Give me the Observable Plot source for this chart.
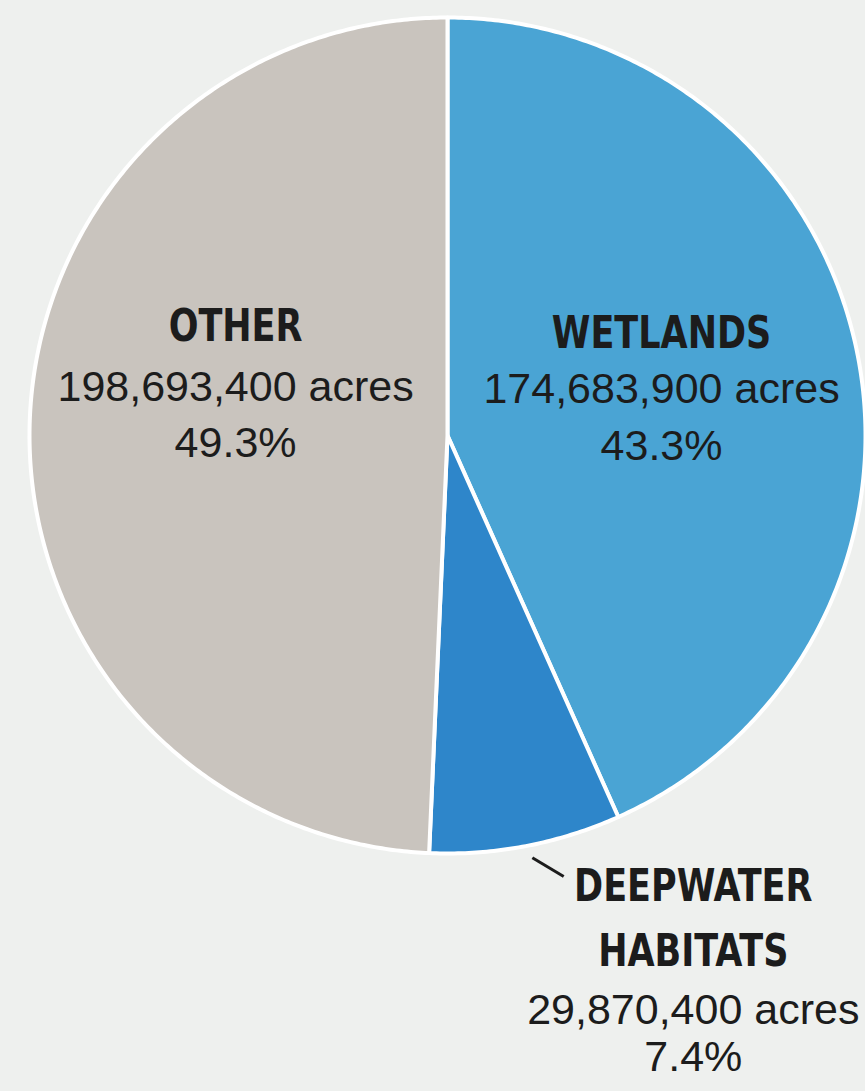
<!DOCTYPE html>
<html><head><meta charset="utf-8">
<script src="https://cdn.jsdelivr.net/npm/d3@7"></script>
<script src="https://cdn.jsdelivr.net/npm/@observablehq/plot@0.6"></script>
<style>
html,body{margin:0;padding:0;background:#eef0ee;}
#chart svg{display:block;}
</style>
</head><body><div id="chart"></div>
<script>
// ---- data ----
const categories = ["WETLANDS", "DEEPWATER\nHABITATS", "OTHER"];
const acres = [174683900, 29870400, 198693400];
const percents = [43.3, 7.4, 49.3];
const colors = ["#4aa4d4", "#2e86ca", "#c9c4be"];

// ---- layout (data units of the pie, radius = 1) ----
const labelX = [0.512, 0.588, -0.507];
const titleY = [0.2105, -1.268, 0.227];
const acresY = [0.0766, -1.407, 0.0837];
const pctY = [-0.0598, -1.520, -0.0526];
const leader = [{x1: 0.203, y1: -1.010, x2: 0.278, y2: -1.055}];

const fmt = d3.format(",");
const arcs = d3.pie().sort(null).startAngle(0).endAngle(2 * Math.PI)(percents);

// polygon vertices of every slice, from the pie angles
const pts = [];
arcs.forEach((a, i) => {
  const cat = categories[i];
  pts.push({cat, x: 0, y: 0});
  const n = Math.max(2, Math.ceil((a.endAngle - a.startAngle) / (Math.PI / 360)));
  for (let k = 0; k <= n; k++) {
    const t = a.startAngle + (a.endAngle - a.startAngle) * k / n;
    pts.push({cat, x: Math.sin(t), y: Math.cos(t)});
  }
  pts.push({cat, x: 0, y: 0});
});

const labels = categories.map((c, i) => ({
  cat: c,
  x: labelX[i],
  ty: titleY[i], ay: acresY[i], py: pctY[i],
  acresText: fmt(acres[i]) + " acres",
  pctText: percents[i].toFixed(1) + "%"
}));

const chart = Plot.plot({
  width: 865,
  height: 1091,
  marginLeft: 29,
  marginRight: 0,
  marginTop: 17,
  marginBottom: 238,
  x: {domain: [-1, 1], axis: null},
  y: {domain: [-1, 1], axis: null},
  color: {domain: categories, range: colors},
  style: {background: "#eef0ee", overflow: "visible"},
  marks: [
    Plot.line(pts, {x: "x", y: "y", z: "cat", fill: "cat", stroke: "white", strokeWidth: 4, strokeLinejoin: "round", curve: "linear"}),
    Plot.link(leader, {x1: "x1", y1: "y1", x2: "x2", y2: "y2", stroke: "#1c1c1c", strokeWidth: 3}),
    Plot.text(labels, {x: "x", y: "ty", text: "cat", textAnchor: "middle", lineAnchor: "bottom", lineHeight: 1.44,
      fontFamily: "'DejaVu Sans Condensed', 'DejaVu Sans', sans-serif", fontWeight: "bold", fontSize: 45, fill: "#1c1c1c",
      className: "title-label"}),
    Plot.text(labels, {x: "x", y: "ay", text: "acresText", textAnchor: "middle", lineAnchor: "bottom",
      fontFamily: "'Liberation Sans', Arial, sans-serif", fontSize: 43, fill: "#1c1c1c"}),
    Plot.text(labels, {x: "x", y: "py", text: "pctText", textAnchor: "middle", lineAnchor: "bottom",
      fontFamily: "'Liberation Sans', Arial, sans-serif", fontSize: 43, fill: "#1c1c1c"})
  ]
});
document.getElementById("chart").appendChild(chart);

// narrow the bold titles to the condensed look of the original
chart.querySelectorAll(".title-label text").forEach(t => {
  const parts = t.querySelectorAll("tspan");
  const els = parts.length ? Array.from(parts) : [t];
  els.forEach(el => {
    const w = el.getComputedTextLength();
    el.setAttribute("textLength", (w * 0.865).toFixed(1));
    el.setAttribute("lengthAdjust", "spacingAndGlyphs");
  });
});
</script>
</body></html>
